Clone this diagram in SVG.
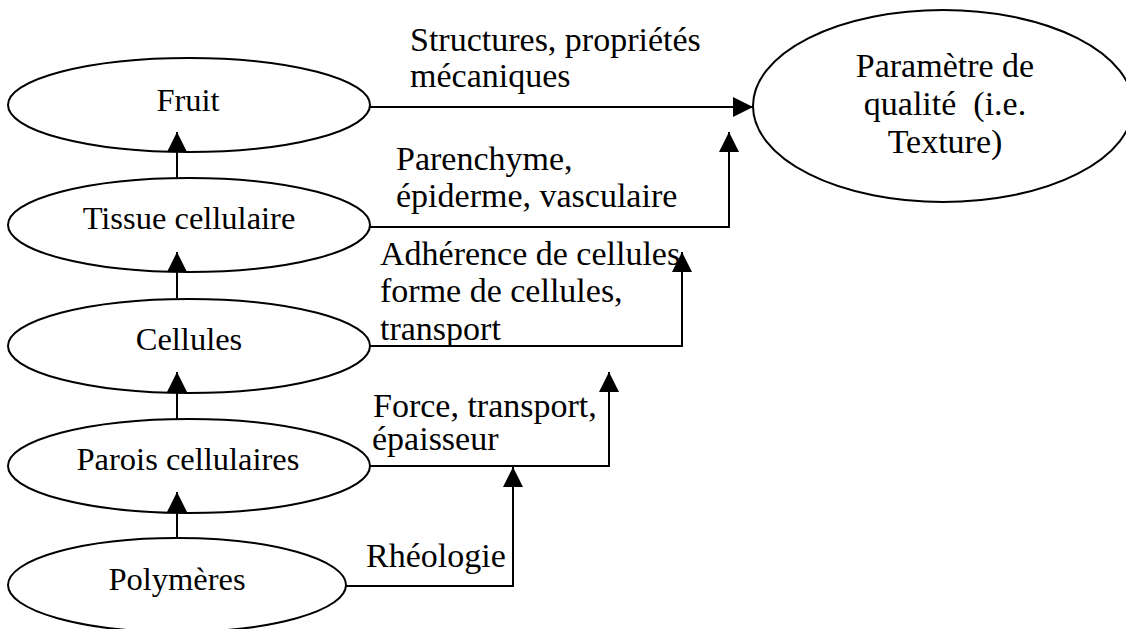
<svg xmlns="http://www.w3.org/2000/svg" width="1126" height="629" viewBox="0 0 1126 629">
<style>
  .node { fill: #ffffff; stroke: #000000; stroke-width: 2; }
  .lbl { font-family: "Liberation Serif", "Times New Roman", serif; font-size: 34px; fill: #000000; }
  .nl { font-size: 32.5px; }
  .mid { text-anchor: middle; }
  .edge { fill: none; stroke: #000000; stroke-width: 2; }
</style>
<defs>
  <marker id="arrow" markerUnits="userSpaceOnUse" markerWidth="20" markerHeight="20" viewBox="0 0 20 20" refX="20" refY="10" orient="auto">
    <path d="M0,0 L20,10 L0,20 Z" fill="#000000"/>
  </marker>
</defs>
<rect width="1126" height="629" fill="#ffffff"/>
<g id="fruit">
  <ellipse class="node" cx="189" cy="105" rx="181" ry="47"/>
  <text class="lbl nl mid" x="188" y="111">Fruit</text>
</g>
<g id="tissue">
  <ellipse class="node" cx="189" cy="225" rx="181" ry="47"/>
  <text class="lbl nl mid" x="189" y="229">Tissue cellulaire</text>
</g>
<g id="cellules">
  <ellipse class="node" cx="189" cy="346" rx="181" ry="47"/>
  <text class="lbl nl mid" x="189" y="350">Cellules</text>
</g>
<g id="parois">
  <ellipse class="node" cx="189" cy="466" rx="181" ry="47"/>
  <text class="lbl nl mid" x="188" y="470">Parois cellulaires</text>
</g>
<g id="polymeres">
  <ellipse class="node" cx="177" cy="585" rx="169" ry="47"/>
  <text class="lbl nl mid" x="177" y="590">Polymères</text>
</g>
<g id="parametre">
  <ellipse class="node" cx="943" cy="106" rx="190" ry="96"/>
  <text class="lbl mid" x="945" y="77">Paramètre de</text>
  <text class="lbl mid" x="945" y="115" xml:space="preserve">qualité  (i.e.</text>
  <text class="lbl mid" x="945" y="153">Texture)</text>
</g>
<g id="connectors">
  <line class="edge" x1="177" y1="178" x2="177" y2="132" marker-end="url(#arrow)"/>
  <line class="edge" x1="177" y1="298" x2="177" y2="252" marker-end="url(#arrow)"/>
  <line class="edge" x1="177" y1="420" x2="177" y2="372" marker-end="url(#arrow)"/>
  <line class="edge" x1="177" y1="538" x2="177" y2="492" marker-end="url(#arrow)"/>
  <line class="edge" x1="370" y1="107" x2="753" y2="107" marker-end="url(#arrow)"/>
  <polyline class="edge" points="370,227 729,227 729,132" marker-end="url(#arrow)"/>
  <polyline class="edge" points="370,346 682,346 682,252" marker-end="url(#arrow)"/>
  <polyline class="edge" points="370,466 609,466 609,372" marker-end="url(#arrow)"/>
  <polyline class="edge" points="345,586 513,586 513,467" marker-end="url(#arrow)"/>
  <text class="lbl" x="410" y="51">Structures, propriétés</text>
  <text class="lbl" x="410" y="87">mécaniques</text>
  <text class="lbl" x="396" y="170">Parenchyme,</text>
  <text class="lbl" x="396" y="207">épiderme, vasculaire</text>
  <text class="lbl" x="380" y="265">Adhérence de cellules</text>
  <text class="lbl" x="380" y="302">forme de cellules,</text>
  <text class="lbl" x="380" y="340">transport</text>
  <text class="lbl" x="373" y="417">Force, transport,</text>
  <text class="lbl" x="372" y="450">épaisseur</text>
  <text class="lbl" x="366" y="567">Rhéologie</text>
</g>
</svg>
